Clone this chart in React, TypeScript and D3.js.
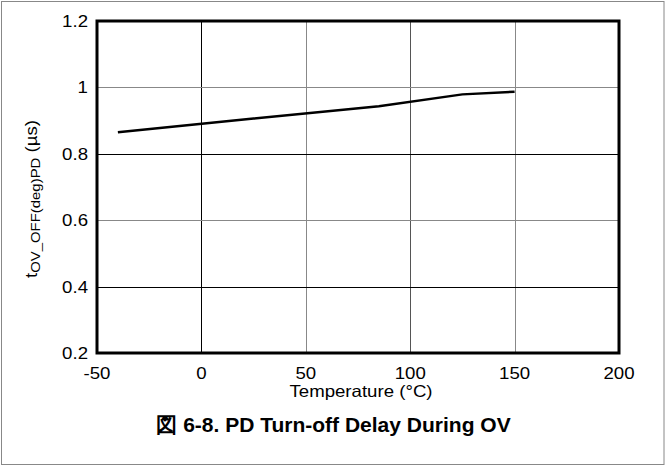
import React from "react";
import * as d3 from "d3";

const temps = [-40, 25, 85, 125, 150];
const delays = [0.865, 0.906, 0.943, 0.979, 0.987];
const xTicks = [-50, 0, 50, 100, 150, 200];
const yTicks = [0.2, 0.4, 0.6, 0.8, 1.0, 1.2];
const xGridColors = ["#000", "#888", "#555", "#888"];
const yGridColors = ["#000", "#888", "#000", "#888"];

const SX = 1.13;

function T(props: { x: number; y: number; anchor?: string; size: number; weight?: string; children: React.ReactNode; sx?: number }) {
  const sx = props.sx ?? SX;
  return (
    <text transform={`translate(${props.x},${props.y}) scale(${sx},1)`} textAnchor={props.anchor || "middle"} fontSize={props.size} fontWeight={props.weight}>
      {props.children}
    </text>
  );
}

export default function App() {
  const W = 666, H = 466;
  const x = d3.scaleLinear().domain([-50, 200]).range([97, 619]);
  const y = d3.scaleLinear().domain([0.2, 1.2]).range([353, 21]);
  const line = d3.line<number>().x((_, i) => x(temps[i])).y((d) => y(d));
  const font = "'Liberation Sans', Arial, sans-serif";
  return (
    <svg width={W} height={H} style={{ position: "absolute", left: 0, top: 0 }} fontFamily={font}>
      <rect x={0} y={0} width={W} height={H} fill="#fff" />
      <rect x={1.5} y={1.5} width={662.5} height={463} fill="none" stroke="#888" />
      {xTicks.slice(1, -1).map((t, i) => (
        <line key={"gx" + t} x1={Math.round(x(t)) + 0.5} x2={Math.round(x(t)) + 0.5} y1={y(1.2)} y2={y(0.2)} stroke={xGridColors[i]} strokeWidth={1} />
      ))}
      {yTicks.slice(1, -1).map((t, i) => (
        <line key={"gy" + t} y1={Math.round(y(t)) + 0.5} y2={Math.round(y(t)) + 0.5} x1={x(-50)} x2={x(200)} stroke={yGridColors[i]} strokeWidth={1} />
      ))}
      <path d={line(delays) || ""} fill="none" stroke="#000" strokeWidth={2.5} />
      <rect x={x(-50)} y={y(1.2)} width={x(200) - x(-50)} height={y(0.2) - y(1.2)} fill="none" stroke="#000" strokeWidth={3} />
      {yTicks.map((t) => (
        <T key={"yt" + t} x={88} y={y(t) + 6} anchor="end" size={16.5}>{String(+t.toFixed(1))}</T>
      ))}
      {xTicks.map((t) => (
        <T key={"xt" + t} x={x(t)} y={378.5} size={16.5}>{t}</T>
      ))}
      <T x={361} y={396.5} size={16.5}>Temperature (°C)</T>
      <T x={333.5} y={432} size={21} weight="bold" sx={1}>図 6-8. PD Turn-off Delay During OV</T>
      <text transform={`translate(37,199) rotate(-90) scale(${SX},1)`} textAnchor="middle" fontSize={16.5}>
        t<tspan fontSize={13.2} dy={3}>OV_OFF(deg)PD</tspan><tspan dy={-3}> (µs)</tspan>
      </text>
    </svg>
  );
}
